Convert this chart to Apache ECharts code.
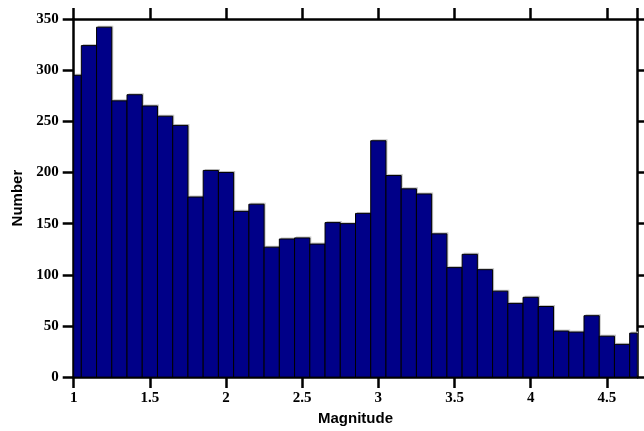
<!DOCTYPE html>
<html>
<head>
<meta charset="utf-8">
<script src="https://cdn.jsdelivr.net/npm/echarts@6/dist/echarts.min.js"></script>
<style>
  html, body { margin: 0; padding: 0; background: #fff; }
  #main { width: 644px; height: 431px; }
</style>
</head>
<body>
<div id="main"></div>
<script>
// bin centres (magnitude) and counts
const binCentres = [1.0, 1.1, 1.2, 1.3, 1.4, 1.5, 1.6, 1.7, 1.8, 1.9,
                    2.0, 2.1, 2.2, 2.3, 2.4, 2.5, 2.6, 2.7, 2.8, 2.9,
                    3.0, 3.1, 3.2, 3.3, 3.4, 3.5, 3.6, 3.7, 3.8, 3.9,
                    4.0, 4.1, 4.2, 4.3, 4.4, 4.5, 4.6, 4.7];
const counts = [295, 324, 342, 270, 276, 265, 255, 246, 176, 202,
                200, 162, 169, 127, 135, 136, 130, 151, 150, 160,
                231, 197, 184, 179, 140, 107, 120, 105, 84, 72,
                78, 69, 45, 44, 60, 40, 32, 43];
const binWidth = 0.1;
const xMin = 1, xMax = 4.7, xStep = 0.5;
const yMin = 0, yMax = 350, yStep = 50;

const tickFont = { fontFamily: 'Liberation Serif', fontWeight: 'bold', fontSize: 15, color: '#000' };
const titleFont = { fontFamily: 'Liberation Sans', fontWeight: 'bold', fontSize: 15, color: '#000' };
const axisLine = { show: true, onZero: false, lineStyle: { color: '#000', width: 2.5 } };
const axisTick = { show: true, inside: false, length: 11, lineStyle: { color: '#000', width: 2.5 } };

const chart = echarts.init(document.getElementById('main'));

function renderBar(params, api) {
  const c = api.value(0);
  const v = api.value(1);
  const x0 = Math.max(c - binWidth / 2, xMin);
  const x1 = Math.min(c + binWidth / 2, xMax);
  const p0 = api.coord([x0, v]);
  const p1 = api.coord([x1, 0]);
  const w = p1[0] - p0[0], h = p1[1] - p0[1];
  return {
    type: 'group',
    children: [
      // faint grey drop shadow, up and to the right
      { type: 'rect', shape: { x: p0[0] + 1.5, y: p0[1] - 1.5, width: w, height: h },
        style: { fill: '#c4c4c4' } },
      { type: 'rect', shape: { x: p0[0], y: p0[1], width: w, height: h },
        style: { fill: '#000088', stroke: '#000', lineWidth: 1 } }
    ]
  };
}

const option = {
  animation: false,
  backgroundColor: '#fff',
  grid: { left: 73.7, right: 6.7, top: 19, bottom: 51.3 },
  xAxis: [
    {
      type: 'value', position: 'bottom', min: xMin, max: xMax, interval: xStep,
      name: 'Magnitude', nameLocation: 'middle', nameGap: 33, nameTextStyle: titleFont,
      axisLine: axisLine, axisTick: axisTick,
      axisLabel: Object.assign({ margin: 14, showMaxLabel: false }, tickFont),
      splitLine: { show: false }
    },
    {
      type: 'value', position: 'top', min: xMin, max: xMax, interval: xStep,
      axisLine: axisLine, axisTick: axisTick,
      axisLabel: { show: false }, splitLine: { show: false }
    }
  ],
  yAxis: [
    {
      type: 'value', position: 'left', min: yMin, max: yMax, interval: yStep,
      name: 'Number', nameLocation: 'middle', nameGap: 48, nameTextStyle: titleFont,
      axisLine: axisLine, axisTick: axisTick,
      axisLabel: Object.assign({ margin: 15 }, tickFont),
      splitLine: { show: false }
    },
    {
      type: 'value', position: 'right', min: yMin, max: yMax, interval: yStep,
      axisLine: axisLine, axisTick: axisTick,
      axisLabel: { show: false }, splitLine: { show: false }
    }
  ],
  series: [{
    type: 'custom',
    renderItem: renderBar,
    clip: true,
    xAxisIndex: 0,
    yAxisIndex: 0,
    z: 1,
    data: binCentres.map((c, i) => [c, counts[i]])
  }]
};

chart.setOption(option);
</script>
</body>
</html>
